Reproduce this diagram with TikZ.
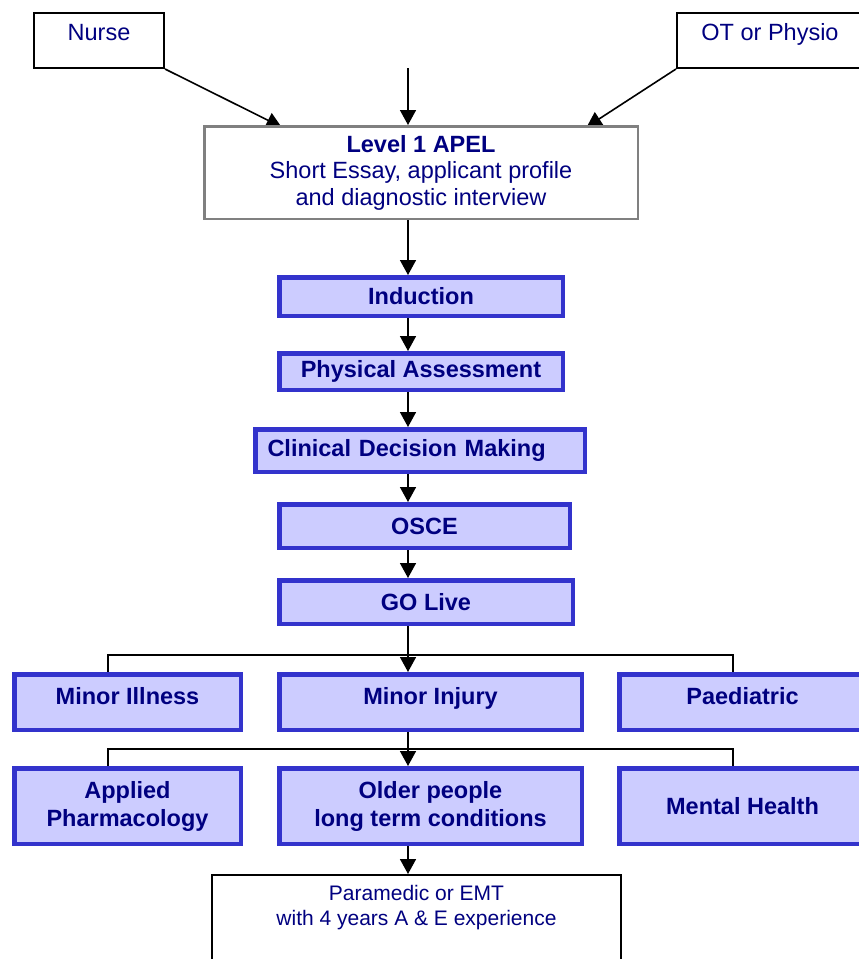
\documentclass[tikz,border=0pt]{standalone}
\usepackage{fontspec}
\setmainfont{Liberation Sans}
\usepackage{tikz}
\usepackage{xcolor}
\usetikzlibrary{arrows.meta}
\usetikzlibrary{backgrounds}
\usetikzlibrary{calc}

\definecolor{stagefill}{HTML}{CCCCFF}
\definecolor{stageline}{HTML}{3333CC}
\definecolor{navytext}{HTML}{000080}
\definecolor{apelgrey}{HTML}{808080}

\tikzset{
  stage/.style={draw=stageline, fill=stagefill, line width=4.5pt, text=navytext,
    font=\fontsize{23.5}{28}\selectfont\bfseries, align=center, inner sep=0pt},
  entry/.style={draw=black, fill=white, line width=2pt, text=navytext,
    font=\fontsize{23.5}{27}\selectfont, align=center, inner sep=0pt},
  apelbox/.style={draw=apelgrey, fill=white, line width=2.5pt, text=navytext,
    font=\fontsize{23.5}{26.5}\selectfont, align=center, inner sep=0pt},
  lift/.style={text height=17pt, text depth=#1},
  link/.style={line width=1.6pt, ->},
  fork/.style={line width=1.5pt},
}

\begin{document}
\begin{tikzpicture}[x=1pt, y=-1pt, >={Triangle[length=15pt,width=16pt]}]
\clip (0,0) rectangle (859,959);

%entry routes
\node[entry, lift=16.6pt, minimum width=130pt, minimum height=55pt] (nurse) at (99,40.5) {Nurse};
\node[entry, lift=16.6pt, minimum width=186pt, minimum height=55pt] (otphysio) at (770,40.5) {OT or Physio};
\coordinate (spine) at (408,68);

%APEL
\node[apelbox, minimum width=433.5pt, minimum height=92.5pt] (apel) at (421,172.5)
  {\textbf{Level 1 APEL}\\Short Essay, applicant profile\\and diagnostic interview};

%core modules
\node[stage, minimum width=283.5pt, minimum height=38.5pt] (induct) at (421,296.5) {Induction};
\node[stage, minimum width=283.5pt, minimum height=36.5pt] (physical) at (421,371.5) {Physical Assessment};
\node[stage, minimum width=329.5pt, minimum height=42.5pt, text width=305pt, align=left] (clinical) at (420,450.5) {Clinical Decision Making};
\node[stage, minimum width=290.5pt, minimum height=43.5pt] (osce) at (424.5,526) {OSCE};
\node[stage, minimum width=293.5pt, minimum height=43.5pt] (golive) at (426,602) {GO Live};

%options
\node[stage, lift=13pt, minimum width=226.5pt, minimum height=55.5pt] (illness) at (127.5,702) {Minor Illness};
\node[stage, lift=13pt, minimum width=302.5pt, minimum height=55.5pt] (injury) at (430.5,702) {Minor Injury};
\node[stage, lift=13pt, minimum width=246.5pt, minimum height=55.5pt] (paed) at (742.5,702) {Paediatric};

\node[stage, minimum width=226.5pt, minimum height=75.5pt] (pharma) at (127.5,806) {Applied\\Pharmacology};
\node[stage, minimum width=302.5pt, minimum height=75.5pt] (older) at (430.5,806) {Older people\\long term conditions};
\node[stage, minimum width=246.5pt, minimum height=75.5pt] (mental) at (742.5,806) {Mental Health};

%paramedic route
\node[entry, anchor=north, font=\fontsize{21}{25}\selectfont, text height=50pt, text depth=90pt,
  minimum width=409pt] (para) at (416.5,874) {Paramedic or EMT\\with 4 years A \& E experience};

\coordinate (leftdrop) at (108,0);
\coordinate (rightdrop) at (733,0);
\coordinate (forka) at (408,655);
\coordinate (forkb) at (408,749);

\begin{scope}[on background layer]
  \draw[link] (spine) -- (apel.north -| spine);
  \draw[link] (nurse.south east) -- ($(apel.north west)!0.18!(apel.north east) + (0,2)$);
  \draw[link] (otphysio.south west) -- ($(apel.north west)!0.88!(apel.north east) + (0,2)$);
  \draw[link] (apel.south -| spine) -- (induct.north -| spine);
  \foreach \a/\b in {induct/physical, physical/clinical, clinical/osce, osce/golive,
                     golive/injury, injury/older, older/para} {
    \draw[link] (\a.south -| spine) -- (\b.north -| spine);
  }
  \draw[fork] (illness.north -| leftdrop) |- (forka) -| (paed.north -| rightdrop);
  \draw[fork] (pharma.north -| leftdrop) |- (forkb) -| (mental.north -| rightdrop);
\end{scope}
\end{tikzpicture}
\end{document}
